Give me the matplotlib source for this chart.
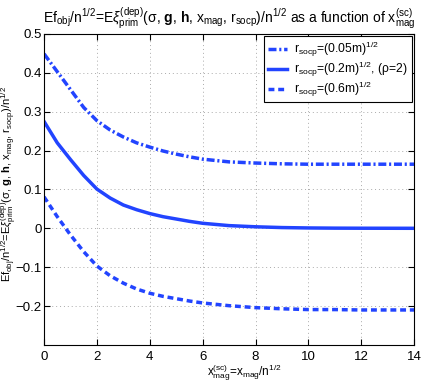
import numpy as np
from matplotlib import pyplot as plt

plt.rcParams['font.family'] = ['Liberation Sans', 'DejaVu Sans']
plt.rcParams['mathtext.fontset'] = 'custom'
plt.rcParams['mathtext.rm'] = 'Liberation Sans'
plt.rcParams['mathtext.it'] = 'Liberation Sans:italic'
plt.rcParams['mathtext.bf'] = 'Liberation Sans:bold'

# valores
x_mag = [0, 0.5, 1, 1.5, 2, 2.5, 3, 3.5, 4, 4.5, 5, 5.5, 6, 7, 8, 9, 10, 11, 12, 13, 14]
r_005 = [0.449, 0.403, 0.357, 0.311, 0.277, 0.253, 0.235, 0.220, 0.209, 0.199, 0.191, 0.184, 0.178,
         0.171, 0.168, 0.166, 0.165, 0.165, 0.165, 0.165, 0.165]
r_02 = [0.275, 0.220, 0.177, 0.136, 0.101, 0.078, 0.060, 0.048, 0.038, 0.030, 0.024, 0.018, 0.013,
        0.007, 0.004, 0.002, 0.001, 0.0005, 0.0003, 0.0002, 0.0001]
r_06 = [0.081, 0.030, -0.017, -0.060, -0.097, -0.122, -0.141, -0.156, -0.167, -0.175, -0.181, -0.187,
        -0.192, -0.199, -0.204, -0.207, -0.209, -0.209, -0.210, -0.210, -0.210]

labels = [r'r$_{\rm socp}$=(0.05m)$^{1/2}$',
          r'r$_{\rm socp}$=(0.2m)$^{1/2}$, (ρ=2)',
          r'r$_{\rm socp}$=(0.6m)$^{1/2}$']

cor = '#2244ff'

fig = plt.figure(figsize=(4.36, 3.82), dpi=100)
ax = fig.add_axes([0.101, 0.097, 0.849, 0.814])

# padrões de traço (escalados pela espessura da linha)
ax.plot(x_mag, r_005, color=cor, lw=2.5, dashes=(2.3, 0.8, 0.6, 0.8), label=labels[0])
ax.plot(x_mag, r_02, color=cor, lw=2.5, label=labels[1])
ax.plot(x_mag, r_06, color=cor, lw=2.5, dashes=(1.7, 1.1), label=labels[2])

ax.set_xlim(0, 14)
ax.set_ylim(-0.3, 0.5)
ax.set_xticks(np.arange(0, 15, 2))
ax.set_yticks([-0.2, -0.1, 0, 0.1, 0.2, 0.3, 0.4, 0.5])
ax.set_yticklabels(['\u22120.2', '\u22120.1', '0', '0.1', '0.2', '0.3', '0.4', '0.5'])
ax.tick_params(direction='in', top=True, right=True, length=4, labelsize=9.5, width=0.8, pad=1.5)
ax.tick_params(axis='x', pad=4)
ax.grid(True, linestyle=(0, (1, 3)), color='#aaaaaa', lw=0.7)

ax.set_title(r'Ef$_{\rm obj}$/n$^{1/2}$=E$\xi^{\rm (dep)}_{\rm prim}$(σ, $\mathbf{g}$, $\mathbf{h}$, '
             r'x$_{\rm mag}$, r$_{\rm socp}$)/n$^{1/2}$ as a function of x$^{\rm (sc)}_{\rm mag}$',
             fontsize=10, pad=8)
ax.set_xlabel(r'x$^{\rm (sc)}_{\rm mag}$=x$_{\rm mag}$/n$^{1/2}$', fontsize=8.5)
ax.xaxis.set_label_coords(0.54, -0.055)
ax.set_ylabel(r'Ef$_{\rm obj}$/n$^{1/2}$=E$\xi^{\rm (dep)}_{\rm prim}$(σ, $\mathbf{g}$, $\mathbf{h}$, '
              r'x$_{\rm mag}$, r$_{\rm socp}$)/n$^{1/2}$', fontsize=8)
ax.yaxis.set_label_coords(-0.068, 0.518)

leg = ax.legend(loc='upper right', fontsize=8.7, fancybox=False, framealpha=1, edgecolor='black',
                handlelength=1.6, handletextpad=0.6, borderaxespad=0.2, labelspacing=0.05,
                borderpad=0.3)
leg.get_frame().set_linewidth(0.8)

fig.savefig('out.png', dpi=100)
